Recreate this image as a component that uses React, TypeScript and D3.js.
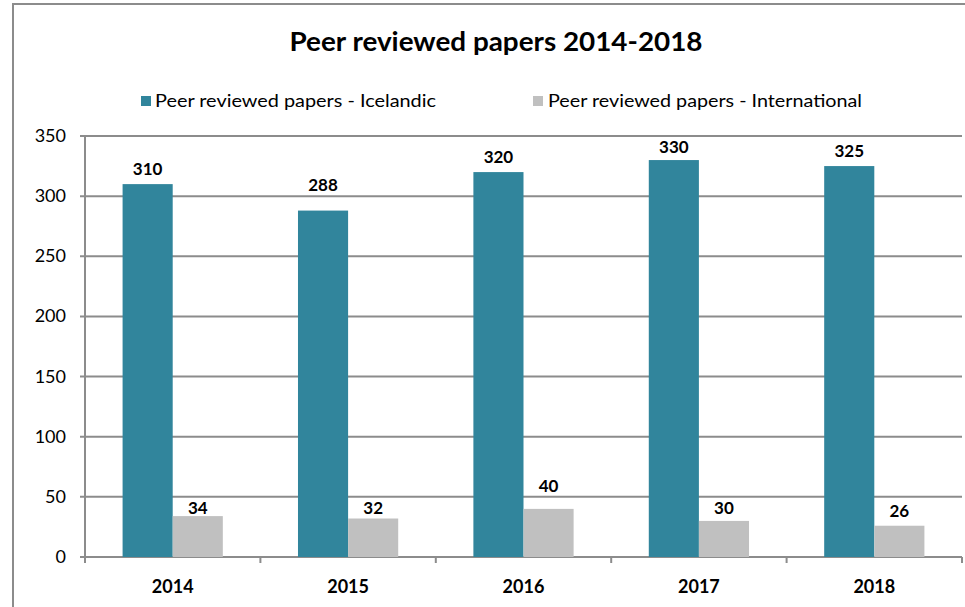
import React from "react";
import * as d3 from "d3";

const categories = ["2014", "2015", "2016", "2017", "2018"];
const icelandic = [310, 288, 320, 330, 325];
const international = [34, 32, 40, 30, 26];
const seriesNames = ["Peer reviewed papers - Icelandic", "Peer reviewed papers - International"];
const yTicks = [0, 50, 100, 150, 200, 250, 300, 350];
const title = "Peer reviewed papers 2014-2018";

const W = 965;
const H = 607;
const colors = ["#31859C", "#C0C0C0"];
const FONT = "Lato, 'Open Sans', sans-serif";

export default function App() {
  const left = 85, right = 962, top = 136, bottom = 557;
  const x = d3.scaleBand<string>().domain(categories).range([left, right]).paddingInner(0).paddingOuter(0);
  const y = d3.scaleLinear().domain([0, 350]).range([bottom, top]);
  const bw = x.bandwidth() / 3.5;
  const gap = (x.bandwidth() - 2 * bw) / 2;
  const series = [icelandic, international];
  const gridYs = yTicks.map((t) => y(t));

  // place a label above the bar, nudging it clear of gridlines
  const labelBaseline = (v: number) => {
    const barTop = y(v);
    const capH = 12;
    const clear = 5;
    let base = barTop - 9;
    for (const g of gridYs) {
      const tTop = base - capH;
      if (g > tTop - clear && g < base + clear) {
        const up = g - clear; // baseline above gridline
        const down = g + clear + capH; // baseline below gridline
        const canDown = down <= barTop - 0.5;
        if (canDown && Math.abs(down - base) < Math.abs(base - up)) base = down;
        else base = up;
      }
    }
    return base;
  };

  return (
    <svg width={W} height={H} style={{ position: "absolute", left: 0, top: 0 }} fontFamily={FONT}>
      <rect x={0} y={0} width={W} height={H} fill="#fff" />
      <rect x={13} y={4} width={W + 20} height={H + 20} fill="none" stroke="#8c8c8c" strokeWidth={2} />
      <text x={496} y={51} textAnchor="middle" fontSize={27} fontWeight="bold" fill="#000" textLength={413} lengthAdjust="spacingAndGlyphs">{title}</text>
      {/* legend */}
      <rect x={141} y={96} width={10} height={10} fill={colors[0]} />
      <text x={155} y={107} fontSize={18} fill="#000" textLength={281} lengthAdjust="spacingAndGlyphs">{seriesNames[0]}</text>
      <rect x={533} y={96} width={10} height={10} fill={colors[1]} />
      <text x={548} y={107} fontSize={18} fill="#000" textLength={314} lengthAdjust="spacingAndGlyphs">{seriesNames[1]}</text>
      {/* gridlines */}
      {yTicks.map((t) => (
        <g key={t}>
          <line x1={80} x2={right} y1={y(t)} y2={y(t)} stroke="#8c8c8c" strokeWidth={2} />
          <text x={66} y={y(t) + 6} textAnchor="end" fontSize={18} fill="#000">{t}</text>
        </g>
      ))}
      <line x1={left} x2={left} y1={top} y2={bottom + 6} stroke="#8c8c8c" strokeWidth={2} />
      {categories.map((c) => (
        <line key={c} x1={(x(c) as number) + x.bandwidth()} x2={(x(c) as number) + x.bandwidth()} y1={bottom} y2={bottom + 6} stroke="#8c8c8c" strokeWidth={2} />
      ))}
      {/* bars */}
      {series.map((vals, si) =>
        vals.map((v, i) => {
          const bx = (x(categories[i]) as number) + gap + si * bw;
          return (
            <rect key={`b${si}-${i}`} x={bx} y={y(v)} width={bw} height={y(0) - y(v)} fill={colors[si]} />
          );
        })
      )}
      {series.map((vals, si) =>
        vals.map((v, i) => {
          const bx = (x(categories[i]) as number) + gap + si * bw;
          return (
            <text key={`l${si}-${i}`} x={bx + bw / 2} y={labelBaseline(v)} textAnchor="middle" fontSize={17} fontWeight="bold" fill="#000">{v}</text>
          );
        })
      )}
      {categories.map((c) => (
        <text key={c} x={(x(c) as number) + x.bandwidth() / 2} y={593} textAnchor="middle" fontSize={18} fontWeight="bold" fill="#000">{c}</text>
      ))}
    </svg>
  );
}
